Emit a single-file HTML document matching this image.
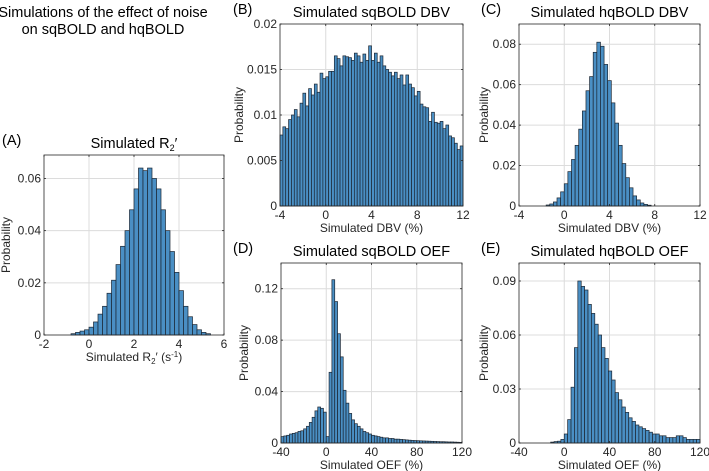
<!DOCTYPE html>
<html><head><meta charset="utf-8"><style>
html,body{margin:0;padding:0;background:#fff;}
svg{display:block;font-family:"Liberation Sans",sans-serif;}
</style></head><body>
<svg id="fig" width="709" height="471" viewBox="0 0 709 471">
<text x="103" y="17" font-size="14.5" text-anchor="middle">Simulations of the effect of noise</text>
<text x="103" y="34" font-size="14.5" text-anchor="middle">on sqBOLD and hqBOLD</text>
</svg>
<script>
// Panel A: simulated R2'
const aStart = -0.8, aWidth = 0.2;
const aValues = [0.0005,0.001,0.0015,0.002,0.003,0.005,0.008,0.011,0.016,0.021,0.027,0.034,0.040,0.048,0.056,0.064,0.063,0.064,0.060,0.056,0.048,0.040,0.032,0.024,0.017,0.011,0.007,0.004,0.002,0.001,0.0005];
const aXTicks = [-2,0,2,4,6];
const aYTicks = [0,0.02,0.04,0.06];
// Panel B: sqBOLD DBV
const bStart = -4, bWidth = 0.25;
const bValues = [0.0078,0.0087,0.0085,0.0095,0.0100,0.0106,0.0098,0.0113,0.0124,0.0110,0.0129,0.0122,0.0134,0.0125,0.0146,0.0140,0.0142,0.0148,0.0148,0.0165,0.0162,0.0154,0.0165,0.0164,0.0163,0.0160,0.0168,0.0165,0.0158,0.0167,0.0160,0.0176,0.0160,0.0168,0.0158,0.0165,0.0154,0.0150,0.0147,0.0143,0.0147,0.0140,0.0144,0.0133,0.0144,0.0134,0.0130,0.0121,0.0126,0.0112,0.0109,0.0108,0.0093,0.0103,0.0092,0.0091,0.0093,0.0085,0.0089,0.0077,0.0075,0.0069,0.0062,0.0066];
const bXTicks = [-4,0,4,8,12];
const bYTicks = [0,0.005,0.01,0.015,0.02];
// Panel C: hqBOLD DBV
const cStart = -1.6, cWidth = 0.32;
const cValues = [0.0005,0.001,0.002,0.004,0.007,0.011,0.017,0.023,0.030,0.038,0.047,0.057,0.064,0.076,0.081,0.079,0.070,0.062,0.051,0.041,0.030,0.021,0.014,0.009,0.005,0.003,0.0015,0.0008,0.0004];
const cXTicks = [-4,0,4,8,12];
const cYTicks = [0,0.02,0.04,0.06,0.08];
// Panel D: sqBOLD OEF
const dStart = -40, dWidth = 2.5;
const dValues = [0.005,0.0055,0.006,0.007,0.0075,0.008,0.009,0.0095,0.011,0.013,0.016,0.020,0.025,0.028,0.027,0.024,
  0.005,0.055,0.127,0.110,0.085,0.067,0.041,0.031,0.023,0.018,0.015,0.013,0.011,0.009,0.008,0.007,0.006,0.0055,0.005,
  0.0045,0.004,0.004,0.0035,0.0035,0.003,0.003,0.0028,0.0026,0.0024,0.0022,0.002,0.0019,0.0018,0.0017,0.0016,0.0015,0.0014,0.0013,0.0012,0.0011,0.001,0.001,0.0009,0.0008,0.0008,0.0007,0.0006,0.0005];
const dXTicks = [-40,0,40,80,120];
const dYTicks = [0,0.04,0.08,0.12];
// Panel E: hqBOLD OEF
const eStart = -12, eWidth = 3;
const eValues = [0.0005,0.0008,0.001,0.002,0.005,0.013,0.031,0.053,0.09,0.087,0.085,0.077,0.072,0.066,0.060,0.053,0.047,0.040,0.035,0.028,0.024,0.020,0.017,0.014,0.012,0.010,0.009,0.008,0.007,0.006,0.005,0.005,0.004,0.004,0.003,0.003,0.003,0.004,0.004,0.003,0.002,0.002,0.002,0.002];
const eXTicks = [-40,0,40,80,120];
const eYTicks = [0,0.03,0.06,0.09];

const NS = 'http://www.w3.org/2000/svg';
const svg = document.getElementById('fig');
function mk(tag, attrs, parent){const e=document.createElementNS(NS,tag);for(const k in attrs)e.setAttribute(k,attrs[k]);(parent||svg).appendChild(e);return e;}

function panel(cfg){
  const g = mk('g',{});
  
  
  const {L,R,T,B,xmin,xmax,ymax} = cfg;
  const sx = v => L + (v-xmin)/(xmax-xmin)*(R-L);
  const sy = v => B - v/ymax*(B-T);
  cfg.xt.forEach(t=>{ if(t>xmin&&t<xmax){const l=mk('line',{x1:sx(t),x2:sx(t),y1:T,y2:B,stroke:'#dcdcdc','stroke-width':1},g);
    
    }});
  cfg.yt.forEach(t=>{ if(t>0&&t<ymax){const l=mk('line',{x1:L,x2:R,y1:sy(t),y2:sy(t),stroke:'#dcdcdc','stroke-width':1},g);
    
    }});
  cfg.vals.forEach((v,i)=>{
    const x0=cfg.start+i*cfg.w, x1=x0+cfg.w;
    if(x1<=xmin||x0>=xmax) return;
    const a=sx(Math.max(x0,xmin)), b=sx(Math.min(x1,xmax));
    const r=mk('rect',{x:a,y:sy(v),width:Math.max(b-a,0.5),height:B-sy(v),fill:'#4a8fc4',stroke:'#1b2633','stroke-width':0.7},g);
    
    
  });
  const bx=mk('rect',{x:L,y:T,width:R-L,height:B-T,fill:'none',stroke:'#262626','stroke-width':0.8},g);
  
  
  cfg.xt.forEach(t=>{
    mk('line',{x1:sx(t),x2:sx(t),y1:B,y2:B-2,stroke:'#262626','stroke-width':0.8},g);
    mk('line',{x1:sx(t),x2:sx(t),y1:T,y2:T+2,stroke:'#262626','stroke-width':0.8},g);
    const tx=mk('text',{x:sx(t),y:B+13,'font-size':12,'text-anchor':'middle',fill:'#262626'},g);
    tx.textContent = t<0 ? '-'+Math.abs(t) : String(t);
    
    
  });
  cfg.yt.forEach(t=>{
    mk('line',{x1:L,x2:L+2,y1:sy(t),y2:sy(t),stroke:'#262626','stroke-width':0.8},g);
    mk('line',{x1:R,x2:R-2,y1:sy(t),y2:sy(t),stroke:'#262626','stroke-width':0.8},g);
    const ty=mk('text',{x:L-3,y:sy(t)+4,'font-size':12,'text-anchor':'end',fill:'#262626'},g);
    ty.textContent = String(t);
    
    
  });
  const xl=mk('text',{x:(L+R)/2,y:B+26,'font-size':12,'text-anchor':'middle',fill:'#262626'},g);
  xl.innerHTML = cfg.xlabel;
  
  
  const yl=mk('text',{x:0,y:0,'font-size':12,'text-anchor':'middle',fill:'#262626',transform:`translate(${cfg.ylx},${(T+B)/2}) rotate(-90)`},g);
  yl.textContent='Probability';
  
  
  const tt=mk('text',{x:(L+R)/2,y:T-7,'font-size':14.5,'text-anchor':'middle',fill:'#000'},g);
  tt.innerHTML = cfg.title;
  
  
  const lab=mk('text',{x:cfg.labx,y:T-10,'font-size':14.5,fill:'#000'},g);
  lab.textContent='('+cfg.id+')';
  
  
}

const r2 = 'Simulated R<tspan font-size="9" dy="3">2</tspan><tspan dy="-3">′</tspan>';
panel({id:'A',L:44,R:224,T:155,B:335,xmin:-2,xmax:6,ymax:0.069,start:aStart,w:aWidth,vals:aValues,xt:aXTicks,yt:aYTicks,
  xlabel:'Simulated R<tspan font-size="8" dy="3">2</tspan><tspan dy="-3">′ (s</tspan><tspan font-size="8" dy="-4">-1</tspan><tspan dy="4">)</tspan>',title:r2,ylx:10,labx:2});
panel({id:'B',L:280,R:463,T:24,B:206,xmin:-4,xmax:12,ymax:0.02,start:bStart,w:bWidth,vals:bValues,xt:bXTicks,yt:bYTicks,
  xlabel:'Simulated DBV (%)',title:'Simulated sqBOLD DBV',ylx:243,labx:233});
panel({id:'C',L:519,R:700,T:24,B:206,xmin:-4,xmax:12,ymax:0.09,start:cStart,w:cWidth,vals:cValues,xt:cXTicks,yt:cYTicks,
  xlabel:'Simulated DBV (%)',title:'Simulated hqBOLD DBV',ylx:488,labx:481});
panel({id:'D',L:281,R:462,T:263,B:443,xmin:-40,xmax:120,ymax:0.14,start:dStart,w:dWidth,vals:dValues,xt:dXTicks,yt:dYTicks,
  xlabel:'Simulated OEF (%)',title:'Simulated sqBOLD OEF',ylx:248,labx:233});
panel({id:'E',L:519,R:700,T:263,B:443,xmin:-40,xmax:120,ymax:0.1,start:eStart,w:eWidth,vals:eValues,xt:eXTicks,yt:eYTicks,
  xlabel:'Simulated OEF (%)',title:'Simulated hqBOLD OEF',ylx:488,labx:481});
</script>
</body></html>
